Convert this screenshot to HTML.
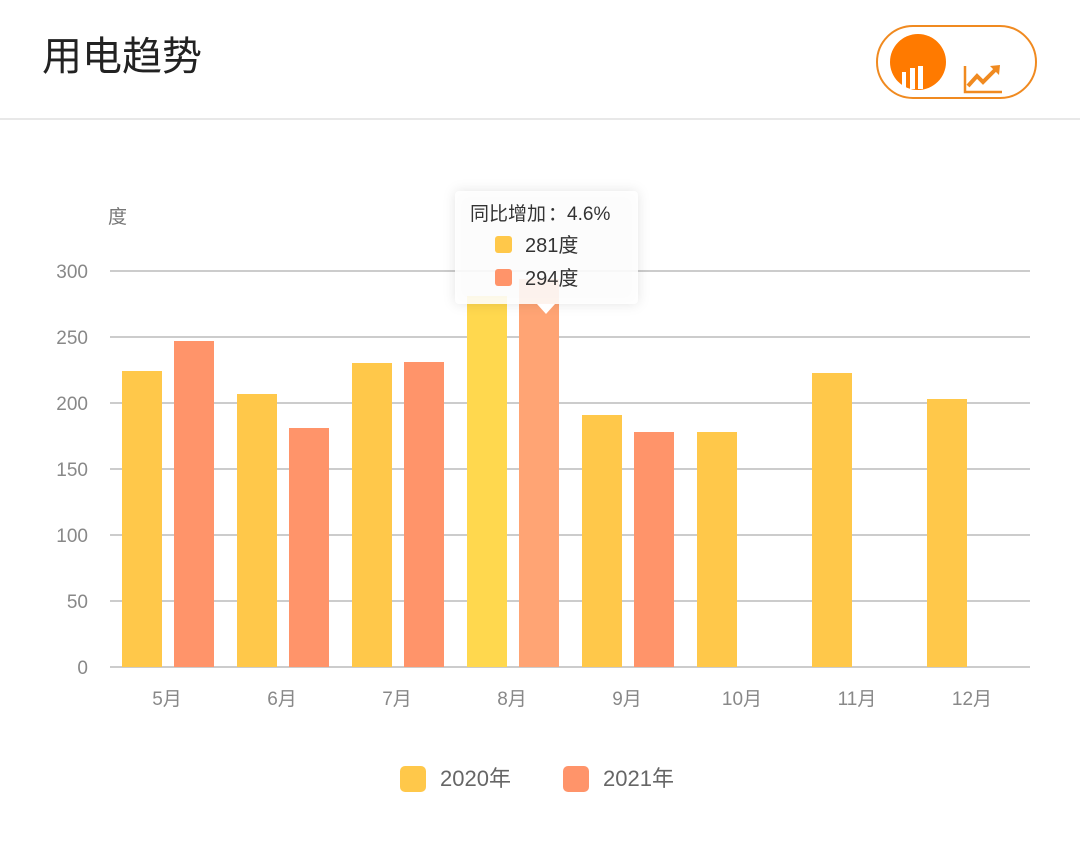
<!DOCTYPE html>
<html><head><meta charset="utf-8"><style>
body{margin:0;background:#fff;width:1080px;height:836px;overflow:hidden;font-family:"Liberation Sans","Noto Sans CJK SC",sans-serif;}
</style></head><body>
<svg width="1080" height="836" xmlns="http://www.w3.org/2000/svg" style="font-family:'Liberation Sans','Noto Sans CJK SC',sans-serif">
<text x="42" y="70" font-size="40" fill="#222">用电趋势</text>
<rect x="877" y="26" width="159" height="72" rx="36" fill="#fff" stroke="#F08A20" stroke-width="2"/>
<circle cx="918" cy="62" r="28" fill="#FF7A00"/>
<rect x="902" y="72" width="4" height="17" fill="#fff"/><rect x="910" y="68" width="5" height="21" fill="#fff"/><rect x="918" y="66" width="5" height="23" fill="#fff"/>
<polyline points="965,66 965,92 1002,92" fill="none" stroke="#F08A20" stroke-width="2.5"/>
<polyline points="968,86 977,76 983,82 996,69" fill="none" stroke="#F08A20" stroke-width="4"/>
<polygon points="990,66 1000,65 999,75" fill="#F08A20"/>
<line x1="0" y1="119" x2="1080" y2="119" stroke="#e8e8e8" stroke-width="2"/>
<text x="108" y="223" font-size="19" fill="#777">度</text>
<g stroke="#ccc" stroke-width="2">
<line x1="110" y1="271" x2="1030" y2="271"/><line x1="110" y1="337" x2="1030" y2="337"/><line x1="110" y1="403" x2="1030" y2="403"/><line x1="110" y1="469" x2="1030" y2="469"/><line x1="110" y1="535" x2="1030" y2="535"/><line x1="110" y1="601" x2="1030" y2="601"/><line x1="110" y1="667" x2="1030" y2="667"/>
</g>
<g font-size="19" fill="#888" text-anchor="end">
<text x="88" y="278">300</text><text x="88" y="344">250</text><text x="88" y="410">200</text><text x="88" y="476">150</text><text x="88" y="542">100</text><text x="88" y="608">50</text><text x="88" y="674">0</text>
</g>
<g fill="#FFC84A">
<rect x="122" y="371" width="40" height="296"/><rect x="237" y="394" width="40" height="273"/><rect x="352" y="363" width="40" height="304"/><rect x="582" y="415" width="40" height="252"/><rect x="697" y="432" width="40" height="235"/><rect x="812" y="373" width="40" height="294"/><rect x="927" y="399" width="40" height="268"/>
</g>
<rect x="467" y="296" width="40" height="371" fill="#FFD84E"/>
<g fill="#FF946A">
<rect x="174" y="341" width="40" height="326"/><rect x="289" y="428" width="40" height="239"/><rect x="404" y="362" width="40" height="305"/><rect x="634" y="432" width="40" height="235"/>
</g>
<rect x="519" y="279" width="40" height="388" fill="#FFA474"/>
<g font-size="19" fill="#888" text-anchor="middle">
<text x="167" y="705">5月</text><text x="282" y="705">6月</text><text x="397" y="705">7月</text><text x="512" y="705">8月</text><text x="627" y="705">9月</text><text x="742" y="705">10月</text><text x="857" y="705">11月</text><text x="972" y="705">12月</text>
</g>
<rect x="455" y="191" width="183" height="113" rx="4" fill="#fff" fill-opacity="0.88" style="filter:drop-shadow(0 0 6px rgba(0,0,0,0.12))"/>
<polygon points="537,304 555,304 546,314" fill="#fff"/>
<text x="470" y="220" font-size="19" fill="#333">同比增加<tspan dx="2">：</tspan>4.6%</text>
<rect x="495" y="236" width="17" height="17" rx="3" fill="#FFC84A"/><text x="525" y="252" font-size="20" fill="#333">281度</text>
<rect x="495" y="269" width="17" height="17" rx="3" fill="#FF946A"/><text x="525" y="285" font-size="20" fill="#333">294度</text>
<rect x="400" y="766" width="26" height="26" rx="5" fill="#FFC84A"/><text x="440" y="786" font-size="22" fill="#666">2020年</text>
<rect x="563" y="766" width="26" height="26" rx="5" fill="#FF946A"/><text x="603" y="786" font-size="22" fill="#666">2021年</text>
</svg>
</body></html>
